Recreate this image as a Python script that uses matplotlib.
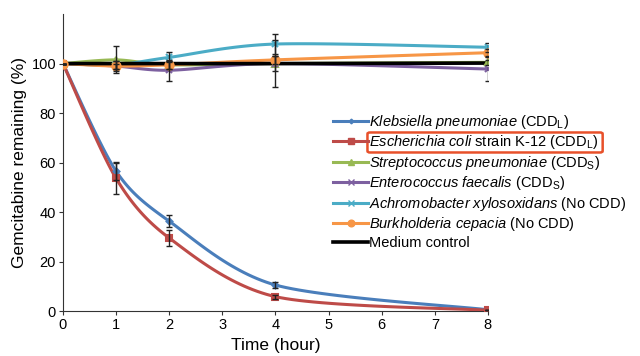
import numpy as np
import matplotlib
matplotlib.use('Agg')
from matplotlib import pyplot as plt
from matplotlib.patches import FancyBboxPatch

plt.rcParams['font.family'] = ['Liberation Sans', 'DejaVu Sans']
plt.rcParams['mathtext.fontset'] = 'custom'
plt.rcParams['mathtext.rm'] = 'Liberation Sans'
plt.rcParams['mathtext.it'] = 'Liberation Sans:italic'

# sampling times (hour)
hours = [0, 1, 2, 4, 8]

# % gemcitabine remaining, one list per strain
klebsiella = [100, 56.5, 36.3, 10.5, 0.5]
klebsiella_err = [0, 3.5, 2.5, 1.2, 0]
ecoli = [100, 53.6, 29.5, 5.8, 0.3]
ecoli_err = [0, 6.5, 3.3, 0.8, 0]
strepto = [100, 101.5, 99.5, 100, 100.5]
strepto_err = [0, 5.5, 1.5, 3.0, 1.0]
entero = [100, 99, 97.3, 100, 97.8]
entero_err = [0, 2.0, 4.2, 9.5, 4.8]
achromo = [100, 99.5, 102.5, 107.9, 106.6]
achromo_err = [0, 1.5, 2.0, 4.0, 1.8]
burkho = [100, 99, 99.5, 101.5, 104.4]
burkho_err = [0, 1.0, 1.5, 1.5, 1.5]
medium = [100, 100, 100, 100, 100.2]

labels = [r'$\it{Klebsiella\ pneumoniae}$ (CDD$_\mathregular{L}$)',
          r'$\it{Escherichia\ coli}$ strain K-12 (CDD$_\mathregular{L}$)',
          r'$\it{Streptococcus\ pneumoniae}$ (CDD$_\mathregular{S}$)',
          r'$\it{Enterococcus\ faecalis}$ (CDD$_\mathregular{S}$)',
          r'$\it{Achromobacter\ xylosoxidans}$ (No CDD)',
          r'$\it{Burkholderia\ cepacia}$ (No CDD)',
          'Medium control']


def smooth(x, y, sx=53.1, sy=2.48, n=30, k=7.0):
    ''' Excel-like smoothed line: bezier through the points,
        computed in (roughly) screen space '''
    p = np.column_stack([np.array(x, float) * sx, np.array(y, float) * sy])
    out = []
    for i in range(len(p) - 1):
        p0 = p[i - 1] if i > 0 else p[i]
        p3 = p[i + 2] if i + 2 < len(p) else p[i + 1]
        c1 = p[i] + (p[i + 1] - p0) / k
        c2 = p[i + 1] - (p3 - p[i]) / k
        t = np.linspace(0, 1, n)[:, None]
        seg = ((1 - t) ** 3 * p[i] + 3 * (1 - t) ** 2 * t * c1
               + 3 * (1 - t) * t ** 2 * c2 + t ** 3 * p[i + 1])
        out.append(seg if i == 0 else seg[1:])
    out = np.vstack(out)
    return out[:, 0] / sx, out[:, 1] / sy


fig = plt.figure(figsize=(6.4, 3.56), dpi=100)
ax = fig.add_axes([0.0984, 0.1264, 0.664, 0.834])

series = [
    (klebsiella, klebsiella_err, '#4a7ebb', 'D', 3),
    (ecoli, ecoli_err, '#be4b48', 's', 5),
    (strepto, strepto_err, '#98b954', '^', 5),
    (entero, entero_err, '#7d60a0', 'x', 5),
    (achromo, achromo_err, '#4bacc6', 'x', 5),
    (burkho, burkho_err, '#f79646', 'o', 6),
    (medium, None, '#000000', None, 0),
]

handles = []
for (vals, err, col, mk, ms), lab in zip(series, labels):
    sx_, sy_ = smooth(hours, vals)
    lw = 2.2 if mk else 2.6
    ax.plot(sx_, sy_, color=col, lw=lw, zorder=3)
    if mk:
        ax.plot(hours, vals, ls='none', marker=mk, color=col, ms=ms,
                mew=1.5, zorder=4)
    if err is not None:
        ax.errorbar(hours, vals, yerr=err, fmt='none', ecolor='#222222',
                    elinewidth=1.0, capsize=2.5, capthick=1.0, zorder=5)
    h, = ax.plot([], [], color=col, lw=lw, marker=mk, ms=ms * 0.8)
    handles.append(h)

ax.set_xlim(0, 8)
ax.set_ylim(0, 120)
ax.set_xticks(range(0, 9))
ax.set_yticks(range(0, 101, 20))
ax.spines['top'].set_visible(False)
ax.spines['right'].set_visible(False)
for s in ['left', 'bottom']:
    ax.spines[s].set_color('#333333')
ax.tick_params(labelsize=10.5, length=3, color='#333333', pad=2)
ax.set_xlabel('Time (hour)', fontsize=12.5, labelpad=4)
ax.set_ylabel('Gemcitabine remaining (%)', fontsize=12.5, labelpad=3)

leg = fig.legend(handles, labels, loc='upper left',
                 bbox_to_anchor=(333 / 640, 1 - 113 / 356),
                 frameon=False, fontsize=10.5, handlelength=2.4,
                 handletextpad=0.1, labelspacing=0.17, borderpad=0,
                 borderaxespad=0)

# red box round the E. coli entry
fig.canvas.draw()
r = fig.canvas.get_renderer()
bb = leg.get_texts()[1].get_window_extent(r)
x0, y0 = fig.transFigure.inverted().transform((bb.x0 - 2, bb.y0 - 1))
x1, y1 = fig.transFigure.inverted().transform((bb.x1 + 4, bb.y1 + 1))
fig.patches.append(FancyBboxPatch((x0, y0), x1 - x0, y1 - y0,
                                  boxstyle='round,pad=0,rounding_size=0.004',
                                  transform=fig.transFigure, fill=False,
                                  edgecolor='#e8502a', lw=1.8))

fig.savefig('out.png', dpi=100)
